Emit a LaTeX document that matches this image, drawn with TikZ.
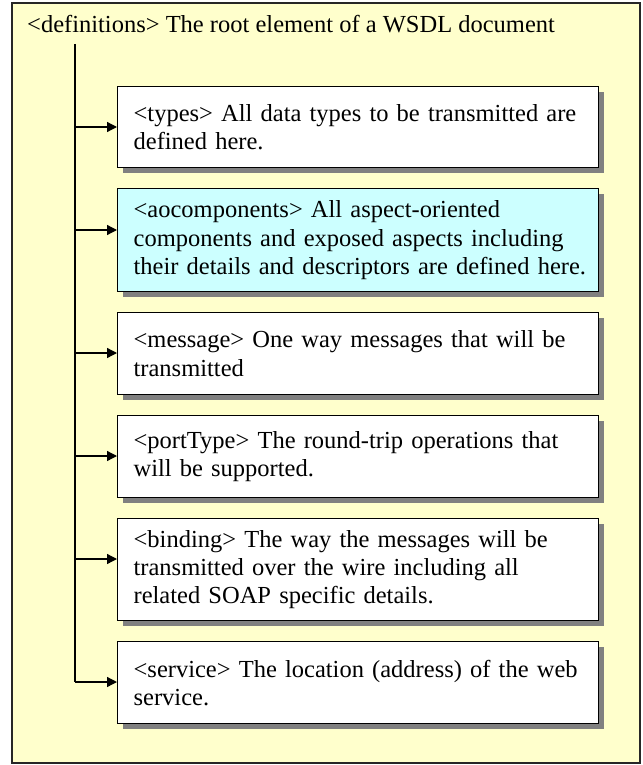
\documentclass[tikz,border=0pt]{standalone}
\usepackage{fontspec}
\setmainfont{Liberation Serif}
\usetikzlibrary{arrows.meta,shadows}
\definecolor{paper}{HTML}{FFFFCC}
\definecolor{aqua}{HTML}{CCFFFF}
\definecolor{shade}{HTML}{808080}
\tikzset{
  frame/.style={draw=black!85, line width=1.8pt, fill=paper},
  part/.style={draw=black, line width=1.3pt, fill=white, rectangle,
    anchor=north west, minimum width=481pt, text width=449pt,
    inner xsep=16pt, inner ysep=0pt, align=left,
    font=\fontsize{24.5}{28.2}\selectfont,
    drop shadow={shadow xshift=5pt, shadow yshift=-5pt, fill=shade, opacity=1}},
  trunk/.style={line width=1.3pt},
  feed/.style={line width=1.3pt, -{Triangle[length=10pt,width=10pt]}},
}
\begin{document}
\begin{tikzpicture}[x=1pt,y=-1pt]
\useasboundingbox (0,0) rectangle (642,765);
% outer container
\draw[frame] (12,3) rectangle (640,763);
\node (root) [anchor=base west, inner sep=0pt, font=\fontsize{24.5}{28.2}\selectfont]
  at (27,33) {<definitions> The root element of a WSDL document};

% child elements
\node (types) [part, minimum height=81pt] at (117,86)
  {\mbox{<types> All data types to be transmitted are}\\ \mbox{defined here.}};
\node (aocomp) [part, fill=aqua, minimum height=103pt] at (117,188)
  {\mbox{<aocomponents> All aspect-oriented}\\ \mbox{components and exposed aspects including}\\ \mbox{their details and descriptors are defined here.}};
\node (message) [part, minimum height=82pt] at (117,312)
  {\mbox{<message> One way messages that will be}\\ \mbox{transmitted}};
\node (porttype) [part, minimum height=82pt] at (117,415)
  {\mbox{<portType> The round-trip operations that}\\ \mbox{will be supported.}};
\node (binding) [part, minimum height=102pt] at (117,518)
  {\mbox{<binding> The way the messages will be}\\ \mbox{transmitted over the wire including all}\\ \mbox{related SOAP specific details.}};
\node (service) [part, minimum height=82pt] at (117,641)
  {\mbox{<service> The location (address) of the web}\\ \mbox{service.}};

% tree trunk and branch points
\coordinate (head) at (75,44);
\coordinate (b1) at (75,127);
\coordinate (b2) at (75,230);
\coordinate (b3) at (75,353);
\coordinate (b4) at (75,456);
\coordinate (b5) at (75,559);
\coordinate (b6) at (75,682);
\draw[trunk] (head) -- (b6);
\draw[feed] (b1) -- (b1 -| types.west);
\draw[feed] (b2) -- (b2 -| aocomp.west);
\draw[feed] (b3) -- (b3 -| message.west);
\draw[feed] (b4) -- (b4 -| porttype.west);
\draw[feed] (b5) -- (b5 -| binding.west);
\draw[feed] (b6) -- (b6 -| service.west);
\end{tikzpicture}
\end{document}
